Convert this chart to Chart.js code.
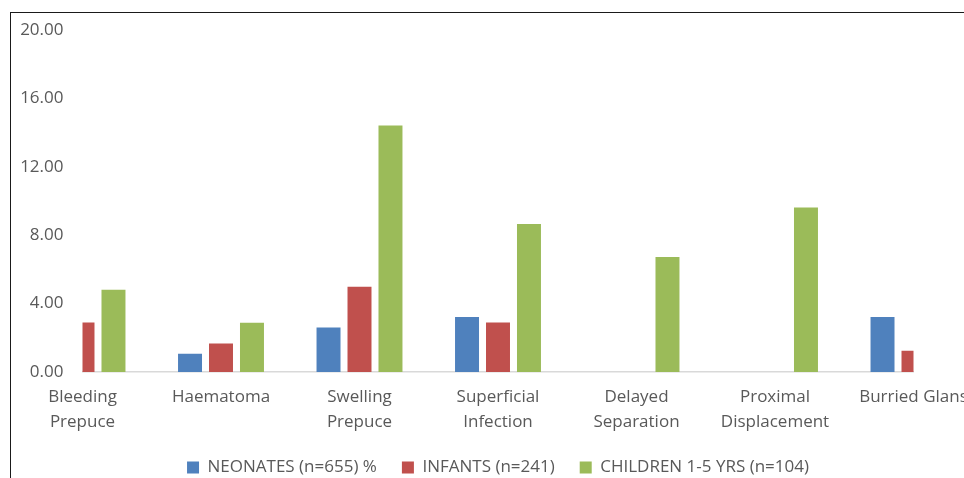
<!DOCTYPE html>
<html>
<head>
<meta charset="utf-8">
<script src="https://cdn.jsdelivr.net/npm/chart.js@4"></script>
<style>
  body { margin: 0; background: #fff; overflow: hidden; width: 964px; height: 478px; position: relative; }
  #frame { position: absolute; left: 10px; top: 12px; width: 2000px; height: 1000px; border-left: 1px solid #1a1a1a; border-top: 1px solid #1a1a1a; pointer-events: none; }
  #myChart { position: absolute; left: 0; top: 0; }
</style>
</head>
<body>
<canvas id="myChart" width="1000" height="486"></canvas>
<div id="frame"></div>
<script>
// categories and values (% of each group)
const categories = [
  ['Bleeding', 'Prepuce'],
  ['Haematoma'],
  ['Swelling', 'Prepuce'],
  ['Superficial', 'Infection'],
  ['Delayed', 'Separation'],
  ['Proximal', 'Displacement'],
  ['Burried Glans']
];
const neonates = [0, 1.07, 2.60, 3.21, 0, 0, 3.21];
const infants = [2.90, 1.66, 4.98, 2.90, 0, 0, 1.24];
const children = [4.81, 2.88, 14.42, 8.65, 6.73, 9.62, 0];
const seriesNames = ['NEONATES (n=655) %', 'INFANTS (n=241)', 'CHILDREN 1-5 YRS (n=104)'];
const yTicks = [0, 4, 8, 12, 16, 20];

const txt = '#595959';
const fnt = { family: '"Open Sans", sans-serif', size: 17 };

const ctx = document.getElementById('myChart');
new Chart(ctx, {
  type: 'bar',
  data: {
    labels: categories,
    datasets: [
      { label: seriesNames[0], data: neonates, backgroundColor: '#4f81bd', clip: 0 },
      { label: seriesNames[1], data: infants, backgroundColor: '#c0504d', clip: 0 },
      { label: seriesNames[2], data: children, backgroundColor: '#9bbb59', clip: 0 }
    ]
  },
  options: {
    responsive: false,
    animation: false,
    devicePixelRatio: 1,
    categoryPercentage: 0.671,
    barPercentage: 0.774,
    layout: { padding: { top: 30, right: 86.5, left: 0, bottom: 0 } },
    plugins: {
      tooltip: { enabled: false },
      legend: {
        position: 'bottom',
        fullSize: false,
        labels: { boxWidth: 12, boxHeight: 12, padding: 25, color: txt, font: fnt }
      }
    },
    scales: {
      x: {
        offset: false,
        grid: { display: false, drawTicks: false, offset: false },
        border: { display: true, color: '#d9d9d9', width: 1.5 },
        ticks: { autoSkip: false, maxRotation: 0, padding: 13, color: txt, font: { family: fnt.family, size: 17, lineHeight: 1.44 } },
        afterFit: function(scale) { scale.height = 62; }
      },
      y: {
        min: 0,
        max: 20,
        grid: { display: false, drawTicks: false },
        border: { display: false },
        afterBuildTicks: function(scale) { scale.ticks = yTicks.map(v => ({ value: v })); },
        afterFit: function(scale) { scale.width = 82.5; },
        ticks: {
          padding: 19,
          color: txt,
          font: fnt,
          callback: function(v) { return Number(v).toFixed(2); }
        }
      }
    }
  }
});
</script>
</body>
</html>
